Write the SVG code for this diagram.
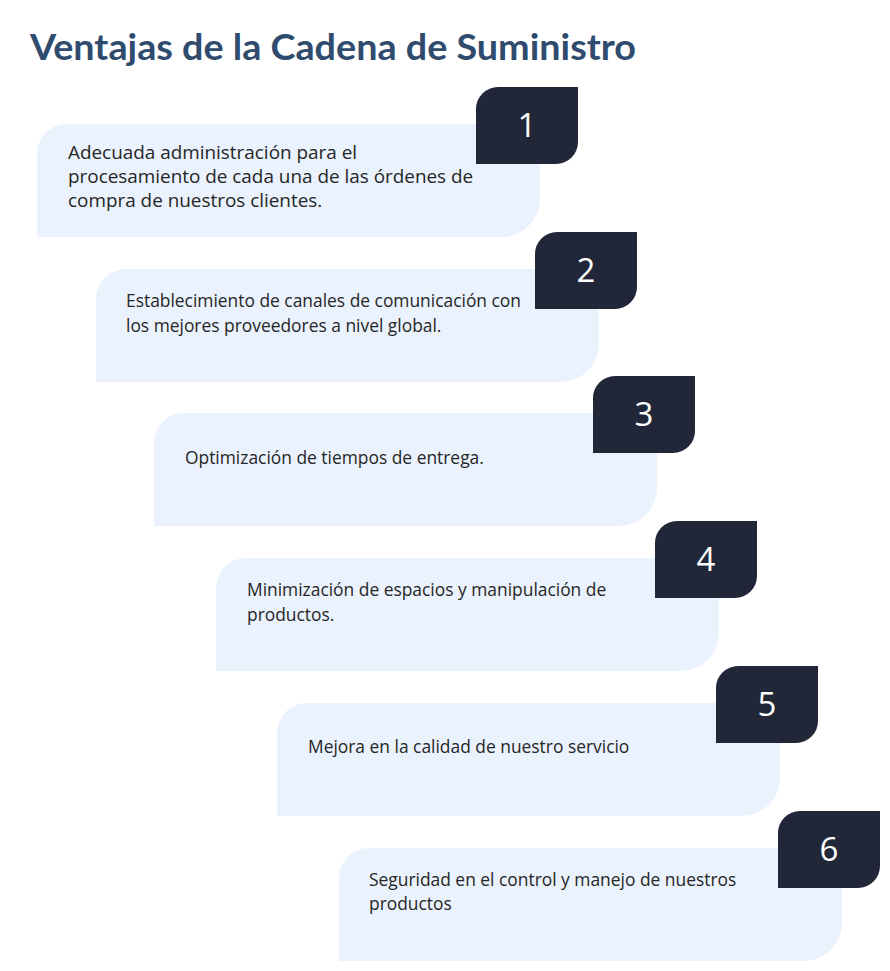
<svg xmlns="http://www.w3.org/2000/svg" width="890" height="971" viewBox="0 0 890 971">
<defs>
<style>
.bg{fill:#ffffff}
.card{fill:#EAF2FD}
.badge{fill:#212638}
.title{font-family:"Lato","Open Sans",sans-serif;font-weight:bold;font-size:36px;fill:#2F4B6E}
.txt{font-family:"Open Sans","Noto Sans",sans-serif;font-size:17.4px;fill:#262626}
.txt1{font-size:18.9px}
.num{font-family:"Open Sans","Noto Sans",sans-serif;font-size:33px;fill:#ffffff;text-anchor:middle}
</style>
<path id="cardShape" d="M30,0 H503 V75 A38,38 0 0 1 465,113 H0 V30 A30,30 0 0 1 30,0 Z"/>
<path id="badgeShape" d="M22,0 H102 V55 A22,22 0 0 1 80,77 H0 V22 A22,22 0 0 1 22,0 Z"/>
</defs>
<rect class="bg" x="0" y="0" width="890" height="971"/>
<text class="title" x="30" y="60" textLength="606" lengthAdjust="spacingAndGlyphs">Ventajas de la Cadena de Suministro</text>
<g id="connectors"></g>
<g id="node1" transform="translate(37,124)">
<use href="#cardShape" class="card"/>
<use href="#badgeShape" class="badge" x="439" y="-37"/>
<text class="num" x="490" y="13">1</text>
<text class="txt txt1" x="31" y="35">Adecuada administración para el</text>
<text class="txt txt1" x="31" y="59">procesamiento de cada una de las órdenes de</text>
<text class="txt txt1" x="31" y="83">compra de nuestros clientes.</text>
</g>
<g id="node2" transform="translate(96,269)">
<use href="#cardShape" class="card"/>
<use href="#badgeShape" class="badge" x="439" y="-37"/>
<text class="num" x="490" y="13">2</text>
<text class="txt" x="30" y="38">Establecimiento de canales de comunicación con</text>
<text class="txt" x="30" y="63">los mejores proveedores a nivel global.</text>
</g>
<g id="node3" transform="translate(154,413)">
<use href="#cardShape" class="card"/>
<use href="#badgeShape" class="badge" x="439" y="-37"/>
<text class="num" x="490" y="13">3</text>
<text class="txt" x="31" y="51">Optimización de tiempos de entrega.</text>
</g>
<g id="node4" transform="translate(216,558)">
<use href="#cardShape" class="card"/>
<use href="#badgeShape" class="badge" x="439" y="-37"/>
<text class="num" x="490" y="13">4</text>
<text class="txt" x="31" y="38">Minimización de espacios y manipulación de</text>
<text class="txt" x="31" y="63">productos.</text>
</g>
<g id="node5" transform="translate(277,703)">
<use href="#cardShape" class="card"/>
<use href="#badgeShape" class="badge" x="439" y="-37"/>
<text class="num" x="490" y="13">5</text>
<text class="txt" x="31" y="50">Mejora en la calidad de nuestro servicio</text>
</g>
<g id="node6" transform="translate(339,848)">
<use href="#cardShape" class="card"/>
<use href="#badgeShape" class="badge" x="439" y="-37"/>
<text class="num" x="490" y="13">6</text>
<text class="txt" x="30" y="38">Seguridad en el control y manejo de nuestros</text>
<text class="txt" x="30" y="62">productos</text>
</g>
</svg>
